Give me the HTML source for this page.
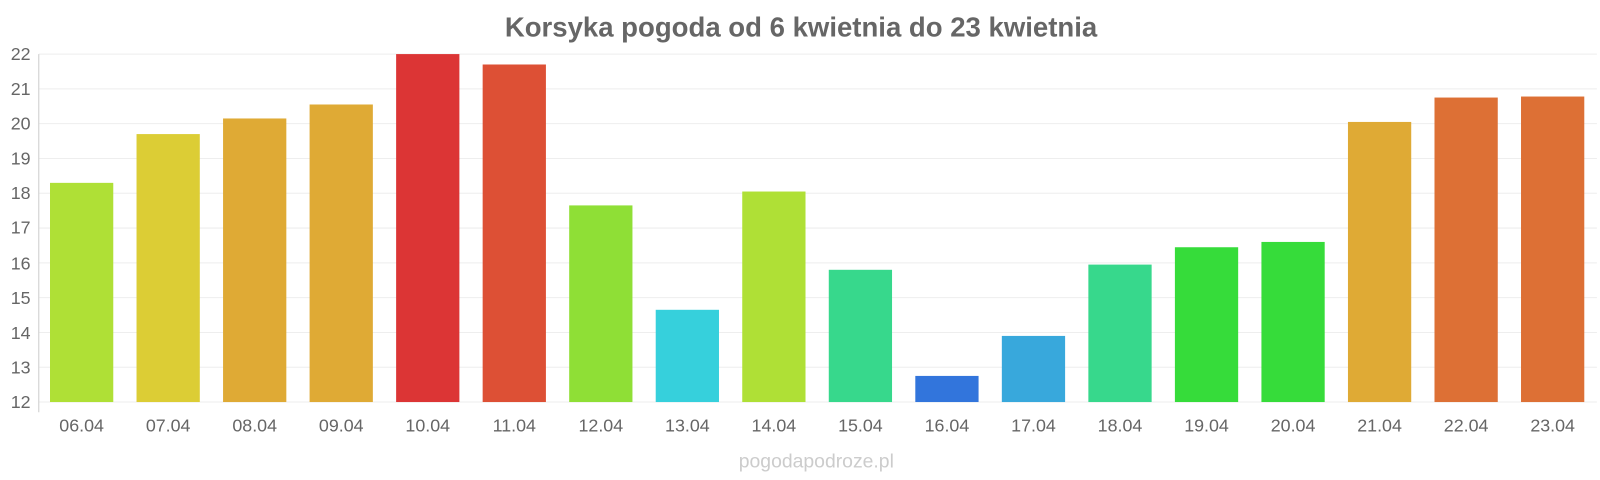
<!DOCTYPE html>
<html><head><meta charset="utf-8"><style>
body{margin:0;background:#fff;font-family:"Liberation Sans",sans-serif;}
svg{display:block}
</style></head><body>
<svg width="1600" height="480" viewBox="0 0 1568 470.4" xmlns="http://www.w3.org/2000/svg" font-family="Liberation Sans, sans-serif">
<text x="785" y="36" text-anchor="middle" font-size="27" font-weight="bold" fill="#666">Korsyka pogoda od 6 kwietnia do 23 kwietnia</text>
<g stroke="#eee" stroke-width="1">
<line x1="38" x2="1565" y1="394" y2="394"/><line x1="38" x2="1565" y1="359.9" y2="359.9"/>
<line x1="38" x2="1565" y1="325.8" y2="325.8"/><line x1="38" x2="1565" y1="291.7" y2="291.7"/>
<line x1="38" x2="1565" y1="257.6" y2="257.6"/><line x1="38" x2="1565" y1="223.5" y2="223.5"/>
<line x1="38" x2="1565" y1="189.4" y2="189.4"/><line x1="38" x2="1565" y1="155.3" y2="155.3"/>
<line x1="38" x2="1565" y1="121.2" y2="121.2"/><line x1="38" x2="1565" y1="87.1" y2="87.1"/>
<line x1="38" x2="1565" y1="53" y2="53"/>
</g>
<line x1="38" y1="53" x2="38" y2="404" stroke="#ccc"/>
<g>
<rect x="49" y="179.2" width="62" height="214.8" fill="#afe036"/>
<rect x="133.8" y="131.4" width="62" height="262.6" fill="#dccd35"/>
<rect x="218.6" y="116.1" width="62" height="277.9" fill="#dfaa35"/>
<rect x="303.4" y="102.4" width="62" height="291.6" fill="#dfaa35"/>
<rect x="388.2" y="53" width="62" height="341" fill="#dc3535"/>
<rect x="473" y="63.2" width="62" height="330.8" fill="#dd5035"/>
<rect x="557.8" y="201.3" width="62" height="192.7" fill="#8fdf36"/>
<rect x="642.6" y="303.6" width="62" height="90.4" fill="#36d0dc"/>
<rect x="727.4" y="187.7" width="62" height="206.3" fill="#afe036"/>
<rect x="812.2" y="264.4" width="62" height="129.6" fill="#37d88c"/>
<rect x="897" y="368.4" width="62" height="25.6" fill="#3275dc"/>
<rect x="981.8" y="329.2" width="62" height="64.8" fill="#38a8dc"/>
<rect x="1066.6" y="259.3" width="62" height="134.7" fill="#37d88c"/>
<rect x="1151.4" y="242.3" width="62" height="151.7" fill="#36dc3a"/>
<rect x="1236.2" y="237.1" width="62" height="156.9" fill="#36dc3a"/>
<rect x="1321" y="119.5" width="62" height="274.5" fill="#dfaa35"/>
<rect x="1405.8" y="95.6" width="62" height="298.4" fill="#dd7035"/>
<rect x="1490.6" y="94.6" width="62" height="299.4" fill="#dd7035"/>
</g>
<g font-size="17.5" fill="#666" text-anchor="end">
<text x="30" y="400">12</text><text x="30" y="366">13</text><text x="30" y="332">14</text>
<text x="30" y="298">15</text><text x="30" y="264">16</text><text x="30" y="229">17</text>
<text x="30" y="195">18</text><text x="30" y="161">19</text><text x="30" y="127">20</text>
<text x="30" y="93">21</text><text x="30" y="59">22</text>
</g>
<g font-size="17.5" fill="#666" text-anchor="middle">
<text x="80" y="423">06.04</text><text x="164.8" y="423">07.04</text><text x="249.6" y="423">08.04</text>
<text x="334.4" y="423">09.04</text><text x="419.2" y="423">10.04</text><text x="504" y="423">11.04</text>
<text x="588.8" y="423">12.04</text><text x="673.6" y="423">13.04</text><text x="758.4" y="423">14.04</text>
<text x="843.2" y="423">15.04</text><text x="928" y="423">16.04</text><text x="1012.8" y="423">17.04</text>
<text x="1097.6" y="423">18.04</text><text x="1182.4" y="423">19.04</text><text x="1267.2" y="423">20.04</text>
<text x="1352" y="423">21.04</text><text x="1436.8" y="423">22.04</text><text x="1521.6" y="423">23.04</text>
</g>
<text x="800" y="458" text-anchor="middle" font-size="19" fill="#ccc">pogodapodroze.pl</text>
</svg>
</body></html>
